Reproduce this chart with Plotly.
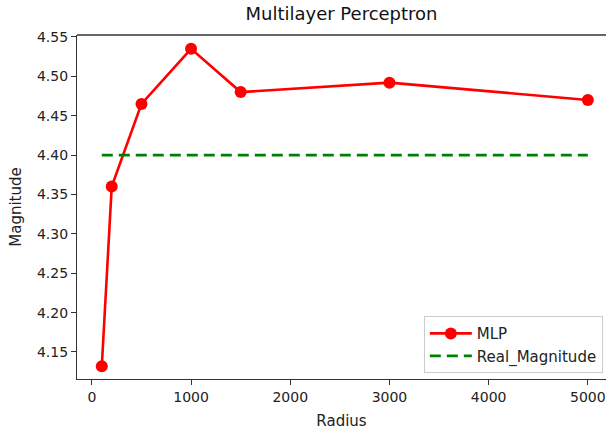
import plotly.graph_objects as go

radius = [100, 200, 500, 1000, 1500, 3000, 5000]
mlp = [4.132, 4.360, 4.465, 4.535, 4.480, 4.492, 4.470]
real_x = [100, 5000]
real_mag = [4.40, 4.40]

x_ticks = [0, 1000, 2000, 3000, 4000, 5000]
y_ticks = [4.15, 4.20, 4.25, 4.30, 4.35, 4.40, 4.45, 4.50, 4.55]

fig = go.Figure()
fig.add_trace(go.Scatter(
    x=radius, y=mlp, mode="lines+markers", name="MLP",
    line=dict(color="#ff0000", width=2.6),
    marker=dict(color="#ff0000", size=12),
))
fig.add_trace(go.Scatter(
    x=real_x, y=real_mag, mode="lines", name="Real_Magnitude",
    line=dict(color="#008000", width=2.6, dash="11px,6px"),
))

font_family = "DejaVu Sans"
fig.update_layout(
    width=606, height=431,
    margin=dict(l=77, r=0, t=35, b=52),
    paper_bgcolor="white", plot_bgcolor="white",
    font=dict(family=font_family, size=14, color="#222"),
    title=dict(text="Multilayer Perceptron", x=0.5, xref="paper",
               y=1 - 14 / 431, yanchor="middle", yref="container",
               font=dict(size=18, color="#111")),
    showlegend=True,
    legend=dict(x=0.994, y=0.017, xanchor="right", yanchor="bottom",
                bgcolor="rgba(255,255,255,0.8)", bordercolor="#cccccc",
                borderwidth=1, font=dict(size=15, color="#222"),
                itemwidth=42, tracegroupgap=2),
)
fig.update_xaxes(
    range=[-150, 5183], tickvals=x_ticks,
    showgrid=False, zeroline=False, automargin=False,
    showline=True, linecolor="#333", linewidth=1.3,
    ticks="outside", ticklen=5, tickcolor="#333", tickwidth=1.2,
    tickfont=dict(size=14),
    title=dict(text="Radius", font=dict(size=15), standoff=11),
)
fig.update_yaxes(
    range=[4.1157, 4.5525], tickvals=y_ticks, tickformat=".2f",
    showgrid=False, zeroline=False, automargin=False,
    showline=True, linecolor="#333", linewidth=1.3,
    ticks="outside", ticklen=5, tickcolor="#333", tickwidth=1.2,
    tickfont=dict(size=14),
    title=dict(text="Magnitude", font=dict(size=15), standoff=11),
)
fig.add_shape(type="line", xref="paper", yref="paper", x0=0, x1=1, y0=1, y1=1,
              line=dict(color="#333", width=1.3))

fig.write_html("out.html", config={"displayModeBar": False},
               post_script="document.body.style.margin='0';")
